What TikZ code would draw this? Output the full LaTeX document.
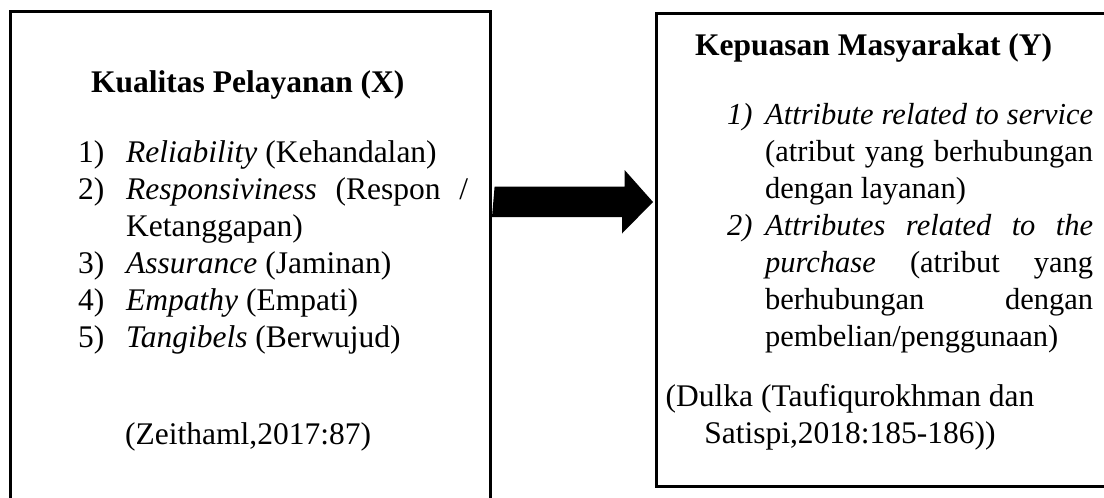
\documentclass[tikz,border=0pt]{standalone}
\usepackage{fontspec}
\setmainfont{Liberation Serif}
\begin{document}
\begin{tikzpicture}[x=1pt,y=-1pt,
  box/.style={draw=black, line width=2.6pt, inner sep=0pt, anchor=north west},
  lt/.style={anchor=base west, inner sep=0pt, font=\fontsize{31.5}{37}\selectfont},
  ltb/.style={lt, font=\fontsize{31.5}{37}\selectfont\bfseries},
  rt/.style={anchor=base west, inner sep=0pt, font=\fontsize{30.5}{37}\selectfont},
  rtb/.style={rt, font=\fontsize{31.5}{37}\selectfont\bfseries},
  rc/.style={rt, anchor=base, font=\fontsize{31.5}{37}\selectfont},
  blockarrow/.style={fill=black}
]
\useasboundingbox (0,0) rectangle (1104,498);
\clip (0,0) rectangle (1104,498);
% boxes
\node[box, minimum width=480pt, minimum height=520pt] (X) at (9,10) {};
\node[box, minimum width=480pt, minimum height=473pt] (Y) at (655,12) {};
% left box text
\node[ltb] (xt) at (91,92) {Kualitas Pelayanan (X)};
\node[lt] (x1n) at (78,162) {1)};
\node[lt] (x1) at (126,162) {\textit{Reliability} (Kehandalan)};
\node[lt] (x2n) at (78,199) {2)};
\node[lt] (x2) at (126,199) {\hbox to 342pt{\textit{Responsiviness}\hfill(Respon\hfill/}};
\node[lt] (x2b) at (126,236) {Ketanggapan)};
\node[lt] (x3n) at (78,273) {3)};
\node[lt] (x3) at (126,273) {\textit{Assurance} (Jaminan)};
\node[lt] (x4n) at (78,310) {4)};
\node[lt] (x4) at (126,310) {\textit{Empathy} (Empati)};
\node[lt] (x5n) at (78,347) {5)};
\node[lt] (x5) at (126,347) {\textit{Tangibels} (Berwujud)};
\node[lt] (xz) at (125,444) {(Zeithaml,2017:87)};
% right box text
\node[rtb] (yt) at (695,55) {Kepuasan Masyarakat (Y)};
\node[rt] (y1n) at (727,124) {\textit{1)}};
\node[rt] (y1) at (765,124) {\hbox to 328pt{\itshape Attribute\hfill related\hfill to\hfill service}};
\node[rt] (y1b) at (765,161) {\hbox to 328pt{(atribut\hfill yang\hfill berhubungan}};
\node[rt] (y1c) at (765,198) {dengan layanan)};
\node[rt] (y2n) at (727,235) {\textit{2)}};
\node[rt] (y2) at (765,235) {\hbox to 328pt{\itshape Attributes\hfill related\hfill to\hfill the}};
\node[rt] (y2b) at (765,272) {\hbox to 328pt{\textit{purchase}\hfill(atribut\hfill yang}};
\node[rt] (y2c) at (765,309) {\hbox to 328pt{berhubungan\hfill dengan}};
\node[rt] (y2d) at (765,346) {pembelian/penggunaan)};
\node[rc] (yd) at (850,406) {(Dulka (Taufiqurokhman dan};
\node[rc] (ys) at (850,443) {Satispi,2018:185-186))};
% block arrow
\coordinate (as) at ([xshift=3pt]X.east |- 0,202);
\coordinate (ae) at ([xshift=-2pt]Y.west |- 0,202);
\fill[blockarrow] (as) ++(0,-15.5) -- ++(130,0) -- ++(0,-16.5) -- (ae) -- ++(-31,31.5) -- ++(0,-16.5) -- ++(-130,0) -- cycle;
\end{tikzpicture}
\end{document}
